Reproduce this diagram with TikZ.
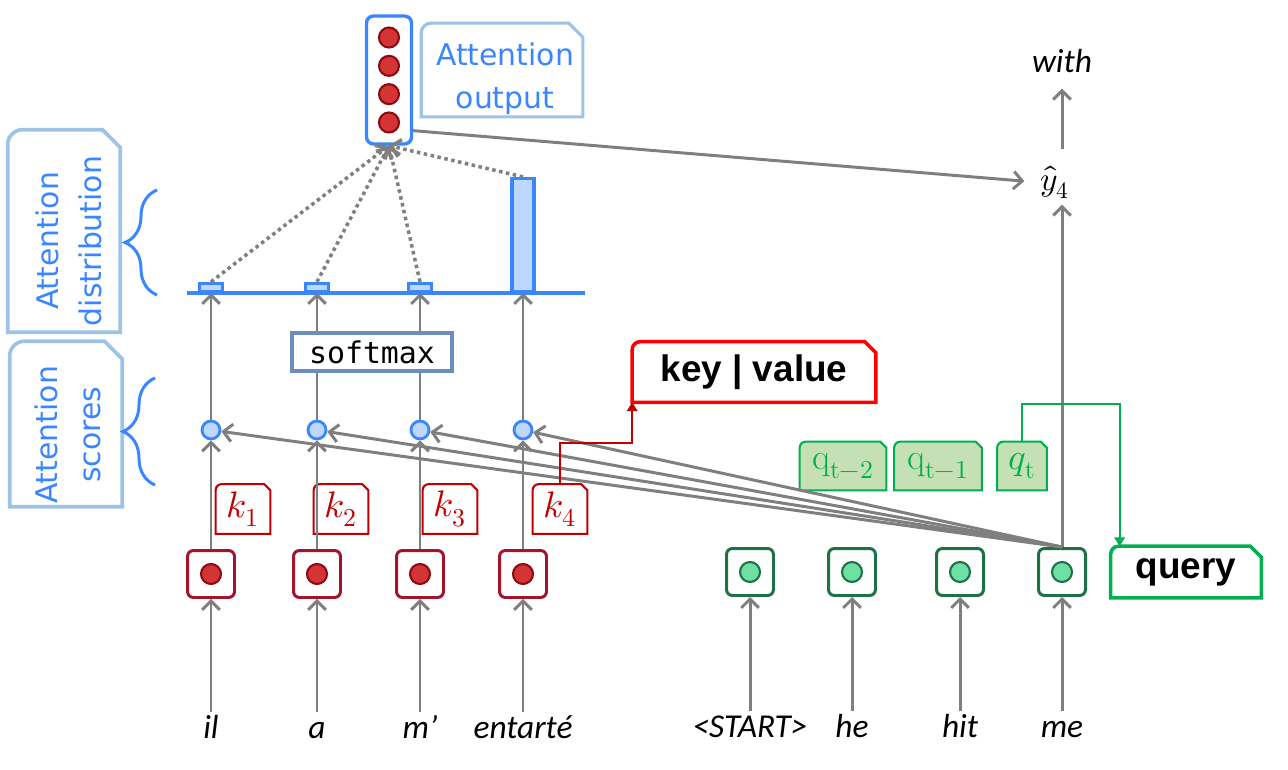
\documentclass[tikz,border=0pt]{standalone}
\usepackage{fontspec}
\usepackage{unicode-math}
\setmathfont{Latin Modern Math}
\newfontfamily\lblfont{DejaVu Sans}
\newfontfamily\wordfont{Carlito}
\newfontfamily\codefont{DejaVu Sans Mono}
\newfontfamily\tagfont{Liberation Sans}
\usepackage{tikz}
\usetikzlibrary{positioning, arrows.meta, calc, decorations.pathreplacing}

\definecolor{arrgray}{HTML}{7F7F7F}
\definecolor{attblue}{HTML}{3A86FF}
\definecolor{barfill}{HTML}{BDD7FF}
\definecolor{frameblue}{HTML}{9DC3E6}
\definecolor{encred}{HTML}{A3142E}
\definecolor{dotred}{HTML}{D43434}
\definecolor{dotredline}{HTML}{8B0A14}
\definecolor{decgreen}{HTML}{1E7145}
\definecolor{dotgreen}{HTML}{6EE0A4}
\definecolor{keyred}{HTML}{C00000}
\definecolor{qgreen}{HTML}{00B050}
\definecolor{qfill}{HTML}{C5E0B4}
\definecolor{softblue}{HTML}{6C8EBF}

\pgfdeclarelayer{background}
\pgfsetlayers{background,main}

\tikzset{
  snipbox/.style n args={3}{append after command={
    \pgfextra{
      \begin{pgfonlayer}{background}
        \path[#1] (\tikzlastnode.south west)
          -- ([yshift=-#2]\tikzlastnode.north west)
          arc[start angle=180, end angle=90, radius=#2]
          -- ([xshift=-#3]\tikzlastnode.north east)
          -- ([yshift=-#3]\tikzlastnode.north east)
          -- (\tikzlastnode.south east) -- cycle;
      \end{pgfonlayer}
    }}},
  arr/.style    ={draw=arrgray, line width=1.7pt, -{Straight Barb[length=5pt, width=10pt]}},
  dotlink/.style={arr, line width=2pt, dash pattern=on 2pt off 2pt},
  keylink/.style={draw=keyred, line width=1.1pt, -{Triangle[length=5pt, width=6pt]}},
  qlink/.style  ={draw=qgreen, line width=1.1pt, -{Triangle[length=5pt, width=6pt]}},
  encbox/.style ={draw=encred, line width=1.7pt, rounded corners=1.2mm, fill=white,
                  minimum size=9.4mm, inner sep=0pt,
                  path picture={\draw[dotredline, line width=1.2pt, fill=dotred]
                    (path picture bounding box.center) circle (2mm);}},
  decbox/.style ={draw=decgreen, line width=1.7pt, rounded corners=1.2mm, fill=white,
                  minimum size=9.4mm, inner sep=0pt,
                  path picture={\draw[decgreen, line width=1.2pt, fill=dotgreen]
                    (path picture bounding box.center) circle (2mm);}},
  outbox/.style ={draw=attblue, line width=1.9pt, rounded corners=1.4mm, fill=white,
                  minimum width=9mm, minimum height=25.6mm, inner sep=0pt,
                  path picture={\foreach \dy in {-8.5mm,-2.83mm,2.83mm,8.5mm}
                    \draw[dotredline, line width=1.2pt, fill=dotred]
                    ([yshift=\dy]path picture bounding box.center) circle (2mm);}},
  scoredot/.style={circle, draw=attblue, fill=barfill, line width=1.6pt,
                  minimum size=3.6mm, inner sep=0pt},
  distbar/.style={draw=attblue, fill=barfill, line width=1.8pt, minimum width=4.6mm,
                  inner sep=0pt, anchor=south},
  word/.style   ={font=\wordfont\itshape\fontsize{19}{23}\selectfont,
                  text height=0.75em, text depth=0.2em, inner sep=1pt, anchor=base},
  lbl/.style    ={font=\lblfont\fontsize{17}{24.5}\selectfont, text=attblue, align=center},
  ktag/.style   ={snipbox={draw=keyred, fill=white, line width=1.2pt}{1.2mm}{1.2mm},
                  text=keyred, font=\fontsize{21}{24}\selectfont,
                  minimum width=10.8mm, minimum height=9.8mm, inner sep=0pt},
  qtag/.style   ={snipbox={draw=qgreen, fill=qfill, line width=1.2pt}{1.2mm}{1.2mm},
                  text=qgreen, font=\fontsize{21}{24}\selectfont,
                  minimum height=9.6mm, inner sep=0pt},
  roletag/.style={font=\tagfont\bfseries\fontsize{21}{24}\selectfont, inner sep=0pt}
}

\begin{document}
\begin{tikzpicture}[x=0.02cm, y=0.02cm]
  \useasboundingbox (0,0) rectangle (1288,-770);

  % encoder side
  \node[encbox] (h1) at (211,-574) {};
  \node[encbox] (h2) at (317,-574) {};
  \node[encbox] (h3) at (420,-574) {};
  \node[encbox] (h4) at (523,-574) {};
  \node[word] (w1) at (211,-738) {il};
  \node[word] (w2) at (317,-738) {a};
  \node[word] (w3) at (420,-738) {m’};
  \node[word] (w4) at (523,-738) {entarté};

  % decoder side
  \node[decbox] (g1) at (750,-572) {};
  \node[decbox] (g2) at (852,-572) {};
  \node[decbox] (g3) at (960,-572) {};
  \node[decbox] (g4) at (1062,-572) {};
  \node[word] (v1) at (750,-737) {<START>};
  \node[word] (v2) at (852,-737) {he};
  \node[word] (v3) at (960,-737) {hit};
  \node[word] (v4) at (1062,-737) {me};

  % scores and distribution
  \node[scoredot] (s1) at (211,-430) {};
  \node[scoredot] (s2) at (317,-430) {};
  \node[scoredot] (s3) at (420,-430) {};
  \node[scoredot] (s4) at (523,-430) {};
  \node[distbar, minimum height=1.6mm] (b1) at (211,-293) {};
  \node[distbar, minimum height=1.6mm] (b2) at (317,-293) {};
  \node[distbar, minimum height=1.6mm] (b3) at (420,-293) {};
  \node[distbar, minimum width=4.4mm, minimum height=22.6mm] (b4) at (523,-293) {};
  \draw[attblue, line width=2.3pt] (187,-293) -- (585,-293);

  \node[outbox] (out) at (389,-80) {};
  \node[snipbox={draw=frameblue, line width=1.8pt}{2mm}{2.8mm},
        minimum width=32.2mm, minimum height=18.6mm, inner sep=0pt] (outlbl) at (502,-70) {};
  \node[lbl] (outtext) at (505,-79) {Attention\\output};

  \node[font=\fontsize{19}{23}\selectfont] (yhat) at (1055,-182) {$\hat{y}_4$};
  \node[word] (with) at (1062,-73) {with};

  % side labels
  \node[snipbox={draw=frameblue, line width=2.1pt}{3mm}{3.6mm},
        minimum width=22.4mm, minimum height=40.4mm, inner sep=0pt] (distlbl) at (64,-231) {};
  \node[lbl, rotate=90] (disttext) at (69,-241) {Attention\\distribution};
  \node[snipbox={draw=frameblue, line width=2.1pt}{3mm}{3.6mm},
        minimum width=22.4mm, minimum height=33mm, inner sep=0pt] (scorelbl) at (66,-424) {};
  \node[lbl, rotate=90] (scoretext) at (68,-435) {Attention\\scores};
  \draw[attblue, line width=1.7pt, decorate, decoration={brace, amplitude=6.4mm}]
        (157,-295) -- (157,-190);
  \draw[attblue, line width=1.7pt, decorate, decoration={brace, amplitude=6.4mm}]
        (155,-485) -- (155,-378);

  % keys, queries
  \node[ktag] (k1) at (243,-509) {$k_1$};
  \node[ktag] (k2) at (341,-509) {$k_2$};
  \node[ktag] (k3) at (450,-509) {$k_3$};
  \node[ktag] (k4) at (560,-509) {$k_4$};
  \node[qtag, minimum width=17.2mm] (qa) at (843,-466) {$\mathrm{q}_{\mathrm{t}-2}$};
  \node[qtag, minimum width=17.4mm] (qb) at (938,-466) {$\mathrm{q}_{\mathrm{t}-1}$};
  \node[qtag, minimum width=9.8mm]  (qt) at (1022,-466) {$q_{\mathrm{t}}$};

  \node[roletag, snipbox={draw=red, fill=white, line width=2pt}{1.6mm}{2.2mm},
        minimum width=48.6mm, minimum height=12mm] (kv) at (754,-372) {key | value};
  \node[roletag, snipbox={draw=qgreen, fill=white, line width=2pt}{1.6mm}{2.2mm},
        minimum width=30mm, minimum height=10.2mm] (query) at (1186,-572) {query};

  % connectors
  \draw[arr, shorten <=2.2mm] (w1.north) -- (h1.south);
  \draw[arr, shorten <=2.2mm] (w2.north) -- (h2.south);
  \draw[arr, shorten <=2.2mm] (w3.north) -- (h3.south);
  \draw[arr, shorten <=2.2mm] (w4.north) -- (h4.south);
  \draw[arr, shorten <=2.2mm] (v1.north) -- (g1.south);
  \draw[arr, shorten <=2.2mm] (v2.north) -- (g2.south);
  \draw[arr, shorten <=2.2mm] (v3.north) -- (g3.south);
  \draw[arr, shorten <=2.2mm] (v4.north) -- (g4.south);

  \draw[arr] (h1) -- (s1);
  \draw[arr] (h2) -- (s2);
  \draw[arr] (h3) -- (s3);
  \draw[arr] (h4) -- (s4);
  \draw[arr] (g4.north) -- (s1);
  \draw[arr] (g4.north) -- (s2);
  \draw[arr] (g4.north) -- (s3);
  \draw[arr] (g4.north) -- (s4);

  \draw[arr] (s1) -- (b1.south);
  \draw[arr] (s2) -- (b2.south);
  \draw[arr] (s3) -- (b3.south);
  \draw[arr] (s4) -- (b4.south);
  \node[draw=softblue, line width=2pt, fill=white, minimum width=32mm, minimum height=7.6mm,
        inner sep=0pt, font=\codefont\fontsize{17}{20}\selectfont] (softmax) at (372,-352) {softmax};

  \draw[dotlink] (b1.north) -- (out.south);
  \draw[dotlink] (b2.north) -- (out.south);
  \draw[dotlink] (b3.north) -- (out.south);
  \draw[dotlink] (b4.north) -- (out.south);

  \draw[arr, shorten >=2mm] ([yshift=3mm]out.south east) -- (yhat.west);
  \draw[arr] (g4.north) -- (g4.north |- yhat.south);
  \draw[arr, shorten <=2mm, shorten >=2mm] (with.south |- yhat.north) -- (with.south);

  \draw[keylink] (k4.north) -- ++(0,41) -| (kv.south west);
  \draw[qlink] (qt.north) -- ++(0,38) -| ([xshift=1.8mm]query.north west);
\end{tikzpicture}
\end{document}
